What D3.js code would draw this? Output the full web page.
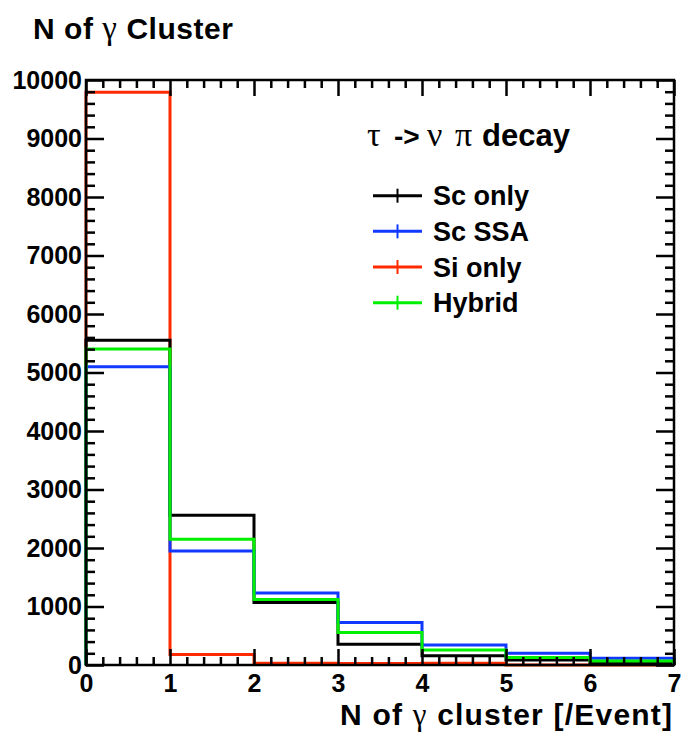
<!DOCTYPE html>
<html>
<head>
<meta charset="utf-8">
<script src="https://cdn.jsdelivr.net/npm/d3@7"></script>
<style>
  html, body { margin: 0; padding: 0; background: #fff; }
  svg { display: block; }
  text { font-family: "Liberation Sans", Arial, Helvetica, sans-serif; font-weight: bold; fill: #000; }
  .greek { font-family: "Liberation Serif", "DejaVu Serif", serif; font-weight: normal; }
</style>
</head>
<body>
<script>
// Bin edges (number of photon clusters per event)
const binEdges = [0, 1, 2, 3, 4, 5, 6, 7];

// Entries per bin for each reconstruction configuration
const scOnly = [5550, 2560, 1070, 355, 160, 85, 30];
const scSSA  = [5100, 1950, 1230, 725, 340, 200, 115];
const siOnly = [9790, 180, 30, 25, 30, 0, 0];
const hybrid = [5400, 2150, 1120, 555, 255, 130, 70];

// Axis tick labels
const xTicks = [0, 1, 2, 3, 4, 5, 6, 7];
const yTicks = [0, 1000, 2000, 3000, 4000, 5000, 6000, 7000, 8000, 9000, 10000];

const series = [
  { name: "Si only", values: siOnly, color: "#ff2a00" },
  { name: "Sc only", values: scOnly, color: "#000000" },
  { name: "Sc SSA",  values: scSSA,  color: "#1038ff" },
  { name: "Hybrid",  values: hybrid, color: "#00f000" }
];
const legendOrder = ["Sc only", "Sc SSA", "Si only", "Hybrid"];

const W = 681, H = 734;
const margin = { left: 86, right: 7, top: 80, bottom: 69 };

const svg = d3.select("body").append("svg")
  .attr("width", W).attr("height", H);

const x = d3.scaleLinear().domain([0, 7]).range([margin.left, W - margin.right]);
const y = d3.scaleLinear().domain([0, 10000]).range([H - margin.bottom, margin.top]);

// Histogram outline: step path rising from zero at the first edge and falling back at the last
function stepPoints(values) {
  const pts = [[binEdges[0], 0]];
  values.forEach((v, i) => {
    pts.push([binEdges[i], v]);
    pts.push([binEdges[i + 1], v]);
  });
  pts.push([binEdges[binEdges.length - 1], 0]);
  return pts;
}
const line = d3.line().x(d => x(d[0])).y(d => y(d[1]));

const plot = svg.append("g");
series.forEach(s => {
  plot.append("path")
    .attr("d", line(stepPoints(s.values)))
    .attr("fill", "none")
    .attr("stroke", s.color)
    .attr("stroke-width", 3)
    .attr("stroke-linejoin", "miter");
});

// Minor tick positions
const yMinor = d3.range(0, 10001, 200).filter(v => v % 1000 !== 0);
const xMinor = d3.range(0, 7.0001, 0.2).map(v => +v.toFixed(1)).filter(v => Math.abs(v - Math.round(v)) > 1e-6);

function styleAxis(g) {
  g.select(".domain").remove();
  g.selectAll(".tick line").attr("stroke", "#000").attr("stroke-width", 2.5);
  g.selectAll(".tick text").style("font-size", "25px").attr("fill", "#000");
}

// Left axis (ticks pointing inward)
svg.append("g").attr("transform", `translate(${x(0)},0)`)
  .call(d3.axisLeft(y).tickValues(yTicks).tickSizeInner(-18).tickSizeOuter(0).tickPadding(4).tickFormat(d3.format("d")))
  .call(styleAxis);
svg.append("g").attr("transform", `translate(${x(0)},0)`)
  .call(d3.axisLeft(y).tickValues(yMinor).tickSizeInner(-9).tickSizeOuter(0).tickFormat(""))
  .call(styleAxis);

// Right axis
svg.append("g").attr("transform", `translate(${x(7)},0)`)
  .call(d3.axisRight(y).tickValues(yTicks).tickSizeInner(-18).tickSizeOuter(0).tickFormat(""))
  .call(styleAxis);
svg.append("g").attr("transform", `translate(${x(7)},0)`)
  .call(d3.axisRight(y).tickValues(yMinor).tickSizeInner(-9).tickSizeOuter(0).tickFormat(""))
  .call(styleAxis);

// Bottom axis
svg.append("g").attr("transform", `translate(0,${y(0)})`)
  .call(d3.axisBottom(x).tickValues(xTicks).tickSizeInner(-16).tickSizeOuter(0).tickPadding(9).tickFormat(d3.format("d")))
  .call(styleAxis);
svg.append("g").attr("transform", `translate(0,${y(0)})`)
  .call(d3.axisBottom(x).tickValues(xMinor).tickSizeInner(-8).tickSizeOuter(0).tickFormat(""))
  .call(styleAxis);

// Top axis
svg.append("g").attr("transform", `translate(0,${y(10000)})`)
  .call(d3.axisTop(x).tickValues(xTicks).tickSizeInner(-16).tickSizeOuter(0).tickFormat(""))
  .call(styleAxis);
svg.append("g").attr("transform", `translate(0,${y(10000)})`)
  .call(d3.axisTop(x).tickValues(xMinor).tickSizeInner(-8).tickSizeOuter(0).tickFormat(""))
  .call(styleAxis);

// Frame
svg.append("rect")
  .attr("x", x(0)).attr("y", y(10000))
  .attr("width", x(7) - x(0)).attr("height", y(0) - y(10000))
  .attr("fill", "none").attr("stroke", "#000").attr("stroke-width", 2.5);

// Title
const title = svg.append("text").attr("x", 33).attr("y", 39)
  .style("font-size", "30px")
  .attr("textLength", 200).attr("lengthAdjust", "spacing");
title.append("tspan").text("N of ");
title.append("tspan").attr("class", "greek").style("font-size", "33px").text("γ");
title.append("tspan").text(" Cluster");

// X axis title
const xt = svg.append("text").attr("x", 672).attr("y", 725)
  .attr("text-anchor", "end")
  .style("font-size", "30px")
  .attr("textLength", 332).attr("lengthAdjust", "spacing");
xt.append("tspan").text("N of ");
xt.append("tspan").attr("class", "greek").style("font-size", "31px").text("γ");
xt.append("tspan").text(" cluster [/Event]");

// Legend header: each piece placed on its own so the Greek symbols keep their spacing
const lh = svg.append("text").attr("y", 146);
lh.append("tspan").attr("x", 367).attr("class", "greek").style("font-size", "34px").text("τ");
lh.append("tspan").attr("x", 394).style("font-size", "28px").text("->");
lh.append("tspan").attr("x", 427).attr("class", "greek").style("font-size", "34px").text("ν");
lh.append("tspan").attr("x", 455).attr("class", "greek").style("font-size", "34px").text("π");
lh.append("tspan").attr("x", 482).style("font-size", "31px").text("decay");

// Legend entries
const legendY = d3.scalePoint().domain(legendOrder).range([195.7, 302.7]);
const legend = svg.append("g");
legendOrder.forEach(name => {
  const s = series.find(d => d.name === name);
  const cy = legendY(name);
  const g = legend.append("g");
  g.append("line").attr("x1", 373).attr("x2", 422).attr("y1", cy).attr("y2", cy)
    .attr("stroke", s.color).attr("stroke-width", 3);
  g.append("line").attr("x1", 397.5).attr("x2", 397.5).attr("y1", cy - 7).attr("y2", cy + 7)
    .attr("stroke", s.color).attr("stroke-width", 2);
  g.append("text").attr("x", 433).attr("y", cy).attr("dy", "0.36em")
    .style("font-size", "27px").text(name);
});
</script>
</body>
</html>
